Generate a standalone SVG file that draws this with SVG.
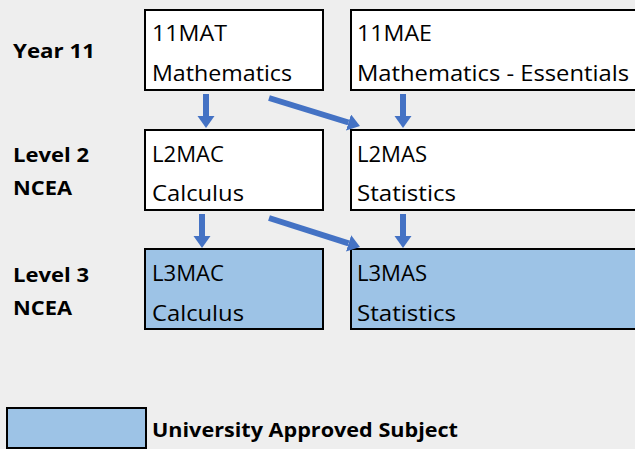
<svg xmlns="http://www.w3.org/2000/svg" width="635" height="449" viewBox="0 0 635 449">
  <style>
    .box { stroke: #000; stroke-width: 2; }
    .plain { fill: #ffffff; }
    .ua { fill: #9dc3e6; }
    .t { font-family: "Open Sans", "Liberation Sans", sans-serif; font-size: 22px; fill: #000; }
    .lab { font-family: "Open Sans", "Liberation Sans", sans-serif; font-size: 19.5px; font-weight: bold; fill: #000; }
    .arr { stroke: #4472c4; stroke-width: 6; fill: none; marker-end: url(#head); }
  </style>
  <defs>
    <marker id="head" markerUnits="userSpaceOnUse" markerWidth="13" markerHeight="18" refX="0" refY="8.5" orient="auto">
      <path d="M0,0 L12,8.5 L0,17 z" fill="#4472c4"/>
    </marker>
  </defs>
  <rect x="0" y="0" width="635" height="449" fill="#eeeeee"/>

  <g id="row-labels">
    <text class="lab" x="13" y="58" textLength="82" lengthAdjust="spacingAndGlyphs">Year 11</text>
    <text class="lab" x="13" y="162" textLength="76" lengthAdjust="spacingAndGlyphs">Level 2</text>
    <text class="lab" x="13" y="195" textLength="59" lengthAdjust="spacingAndGlyphs">NCEA</text>
    <text class="lab" x="13" y="282" textLength="76" lengthAdjust="spacingAndGlyphs">Level 3</text>
    <text class="lab" x="13" y="315" textLength="59" lengthAdjust="spacingAndGlyphs">NCEA</text>
  </g>

  <g id="n11MAT">
    <rect class="box plain" x="145" y="10" width="178" height="80"/>
    <text class="t" x="152" y="41" textLength="75" lengthAdjust="spacingAndGlyphs">11MAT</text>
    <text class="t" x="152" y="81" textLength="140" lengthAdjust="spacingAndGlyphs">Mathematics</text>
  </g>
  <g id="n11MAE">
    <rect class="box plain" x="351" y="10" width="300" height="80"/>
    <text class="t" x="357" y="41" textLength="75" lengthAdjust="spacingAndGlyphs">11MAE</text>
    <text class="t" x="357" y="81" textLength="272" lengthAdjust="spacingAndGlyphs">Mathematics - Essentials</text>
  </g>
  <g id="nL2MAC">
    <rect class="box plain" x="145" y="130" width="178" height="80"/>
    <text class="t" x="152" y="162" textLength="72" lengthAdjust="spacingAndGlyphs">L2MAC</text>
    <text class="t" x="152" y="201" textLength="92" lengthAdjust="spacingAndGlyphs">Calculus</text>
  </g>
  <g id="nL2MAS">
    <rect class="box plain" x="351" y="130" width="300" height="80"/>
    <text class="t" x="357" y="162" textLength="70" lengthAdjust="spacingAndGlyphs">L2MAS</text>
    <text class="t" x="357" y="201" textLength="99" lengthAdjust="spacingAndGlyphs">Statistics</text>
  </g>
  <g id="nL3MAC">
    <rect class="box ua" x="145" y="249" width="178" height="80"/>
    <text class="t" x="152" y="281" textLength="72" lengthAdjust="spacingAndGlyphs">L3MAC</text>
    <text class="t" x="152" y="321" textLength="92" lengthAdjust="spacingAndGlyphs">Calculus</text>
  </g>
  <g id="nL3MAS">
    <rect class="box ua" x="351" y="249" width="300" height="80"/>
    <text class="t" x="357" y="281" textLength="70" lengthAdjust="spacingAndGlyphs">L3MAS</text>
    <text class="t" x="357" y="321" textLength="99" lengthAdjust="spacingAndGlyphs">Statistics</text>
  </g>

  <g id="connectors">
    <line class="arr" x1="206" y1="94" x2="206" y2="116"/>
    <line class="arr" x1="269" y1="98" x2="348.5" y2="122.5"/>
    <line class="arr" x1="403" y1="94" x2="403" y2="116"/>
    <line class="arr" x1="202" y1="214" x2="202" y2="236"/>
    <line class="arr" x1="269" y1="218" x2="348.6" y2="243.4"/>
    <line class="arr" x1="403" y1="214" x2="403" y2="236"/>
  </g>

  <g id="legend">
    <rect class="box ua" x="7" y="408" width="139" height="40"/>
    <text class="lab" x="152" y="437" textLength="306" lengthAdjust="spacingAndGlyphs">University Approved Subject</text>
  </g>
</svg>
